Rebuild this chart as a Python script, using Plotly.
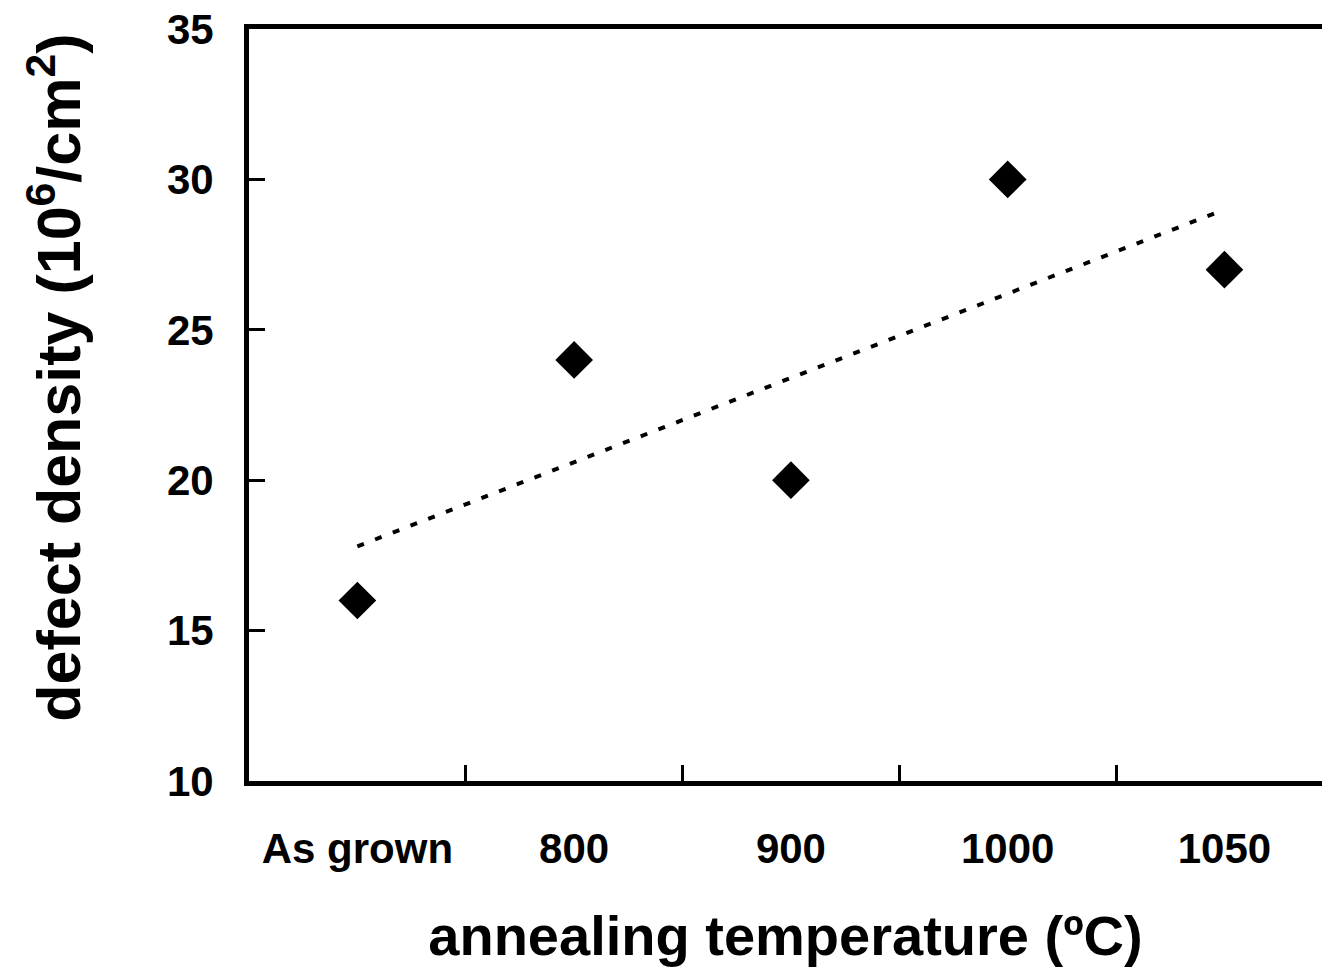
import numpy as np
import plotly.graph_objects as go

categories = ["As grown", "800", "900", "1000", "1050"]
defect_density = [16, 24, 20, 30, 27]
y_ticks = [10, 15, 20, 25, 30, 35]

idx = np.arange(len(categories))
slope, intercept = np.polyfit(idx, defect_density, 1)
trend = slope * idx + intercept

FONT = "Liberation Sans, Arial, sans-serif"

fig = go.Figure()
fig.add_trace(go.Scatter(
    x=categories, y=trend, mode="lines",
    line=dict(color="black", width=4, dash="7px,12px"),
    showlegend=False, hoverinfo="skip"))
fig.add_trace(go.Scatter(
    x=categories, y=defect_density, mode="markers",
    marker=dict(symbol="diamond", size=29, color="black"),
    showlegend=False))

fig.update_layout(
    width=1322, height=967,
    margin=dict(l=249, r=0, t=29, b=186),
    paper_bgcolor="white", plot_bgcolor="white",
    font=dict(family=FONT, color="black", size=42),
    xaxis=dict(
        type="category", categoryorder="array", categoryarray=categories,
        range=[-0.5, 4.45], tickson="boundaries",
        showline=True, linecolor="black", linewidth=5, mirror=True,
        ticks="inside", ticklen=16, tickwidth=3, tickcolor="black",
        showgrid=False, zeroline=False,
        tickfont=dict(family=FONT, size=42, color="black", weight="bold"),
        ticklabelstandoff=27,
        title=dict(text="annealing temperature (ºC)",
                   font=dict(family=FONT, size=56, color="black", weight="bold"),
                   standoff=52),
    ),
    yaxis=dict(
        range=[10, 35], tickvals=y_ticks,
        showline=True, linecolor="black", linewidth=5,
        ticks="inside", ticklen=16, tickwidth=3, tickcolor="black",
        showgrid=False, zeroline=False,
        tickfont=dict(family=FONT, size=42, color="black", weight="bold"),
        ticklabelstandoff=22,
    ),
    annotations=[dict(
        text="defect density (10<sup>6</sup>/cm<sup>2</sup>)",
        xref="paper", yref="paper", x=-0.181, y=0.536,
        xanchor="center", yanchor="middle", textangle=-90, showarrow=False,
        font=dict(family=FONT, size=61, color="black", weight="bold"),
    )],
)

fig.write_html("out.html")
